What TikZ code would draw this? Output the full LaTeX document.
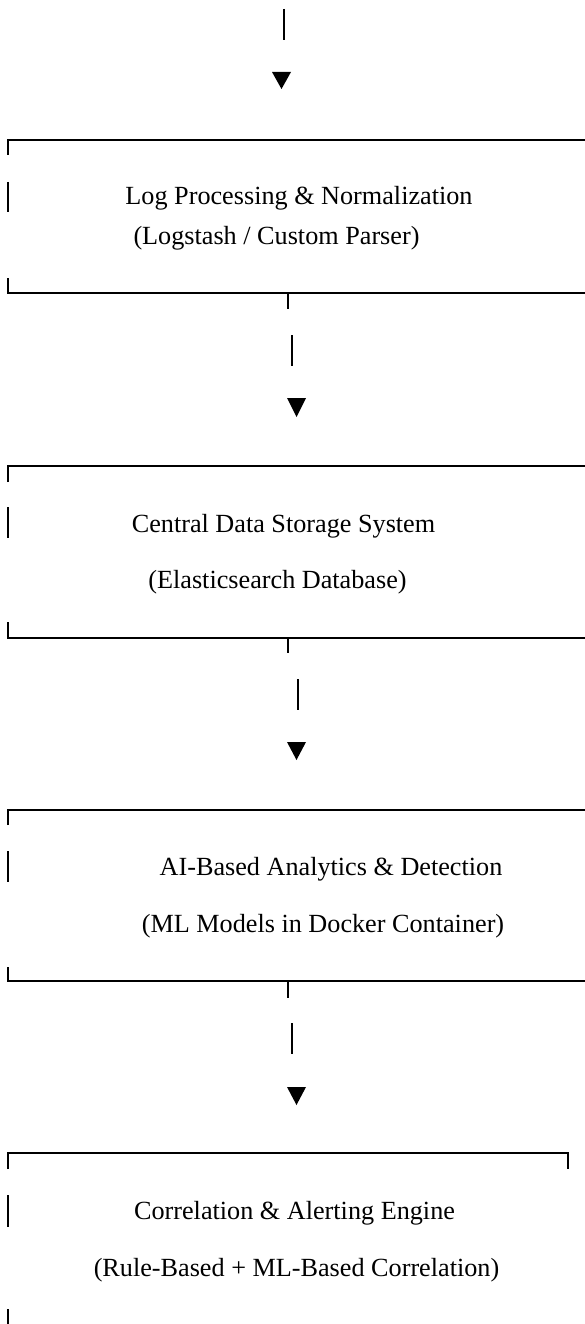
\documentclass[tikz,border=0pt]{standalone}
\usepackage{fontspec}
\setmainfont{Liberation Serif}
\begin{document}
\begin{tikzpicture}[x=1pt,y=-1pt,
  boxline/.style={line width=2pt},
  barline/.style={line width=1.6pt},
  lbl/.style={anchor=base,inner sep=0pt,font=\fontsize{26.2}{31}\selectfont},
  tip/.style={fill=black}]
\useasboundingbox (0,0) rectangle (585,1324);
\fill[white] (0,0) rectangle (585,1324);
% top incoming connector
\coordinate (in0) at (284,9);
\coordinate (in1) at (284,40);
\draw[barline] (in0) -- (in1);
\fill[tip] (272,72) -- (291,72) -- (281.5,89) -- cycle;
% ---------- Box 1 ----------
\coordinate (b1tl) at (8,140);
\coordinate (b1tr) at (585,140);
\coordinate (b1bl) at (8,293);
\coordinate (b1br) at (585,293);
\draw[boxline] (8,155) -- (b1tl) -- (b1tr);
\draw[boxline] (8,278) -- (b1bl) -- (b1br);
\draw[barline] (8,182) -- (8,212);
\node[lbl] (t1a) at (299,205) {Log Processing \& Normalization};
\node[lbl] (t1b) at (276.5,244) {(Logstash / Custom Parser)};
% connector 1 -> 2
\coordinate (s1) at (288,309);
\draw[barline] (288,293) -- (s1);
\draw[barline] (292,335) -- (292,366);
\fill[tip] (287,398) -- (306,398) -- (296.5,417) -- cycle;
% ---------- Box 2 ----------
\coordinate (b2tl) at (8,466);
\coordinate (b2bl) at (8,638);
\draw[boxline] (8,482) -- (b2tl) -- (585,466);
\draw[boxline] (8,622) -- (b2bl) -- (585,638);
\draw[barline] (8,507) -- (8,538);
\node[lbl] (t2a) at (283.5,532) {Central Data Storage System};
\node[lbl] (t2b) at (277.5,588) {(Elasticsearch Database)};
% connector 2 -> 3
\coordinate (s2) at (288,653);
\draw[barline] (288,638) -- (s2);
\draw[barline] (298,679) -- (298,710);
\fill[tip] (287,742) -- (306,742) -- (296.5,760) -- cycle;
% ---------- Box 3 ----------
\coordinate (b3tl) at (8,810);
\coordinate (b3bl) at (8,981);
\draw[boxline] (8,825) -- (b3tl) -- (585,810);
\draw[boxline] (8,967) -- (b3bl) -- (585,981);
\draw[barline] (8,851) -- (8,882);
\node[lbl] (t3a) at (331,875) {AI-Based Analytics \& Detection};
\node[lbl] (t3b) at (323,932) {(ML Models in Docker Container)};
% connector 3 -> 4
\coordinate (s3) at (288,998);
\draw[barline] (288,981) -- (s3);
\draw[barline] (292,1023) -- (292,1054);
\fill[tip] (287,1087) -- (306,1087) -- (296.5,1105) -- cycle;
% ---------- Box 4 ----------
\coordinate (b4tl) at (8,1153);
\coordinate (b4tr) at (568,1153);
\draw[boxline] (8,1169) -- (b4tl) -- (b4tr) -- (568,1169);
\draw[barline] (8,1195) -- (8,1227);
\node[lbl] (t4a) at (294.5,1219) {Correlation \& Alerting Engine};
\node[lbl] (t4b) at (296.5,1276) {(Rule-Based + ML-Based Correlation)};
\draw[barline] (8,1309) -- (8,1324);
\end{tikzpicture}
\end{document}
